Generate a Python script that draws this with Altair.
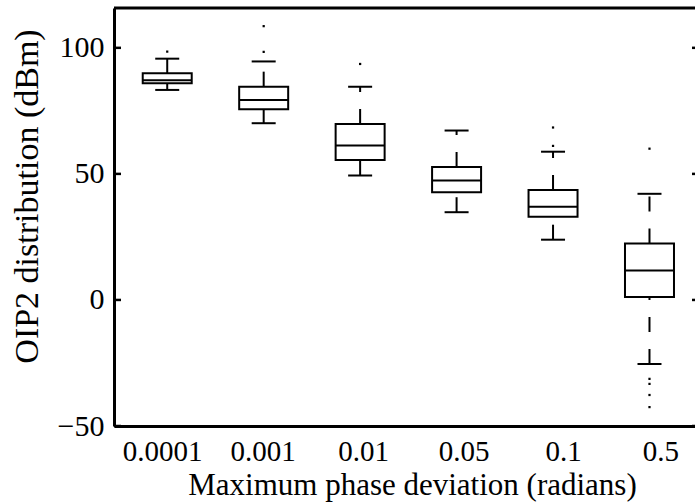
import json
import altair as alt
import pandas as pd

# ---- data ----
categories = ["0.0001", "0.001", "0.01", "0.05", "0.1", "0.5"]
lower_whisker = [83.3, 70.1, 49.4, 34.8, 23.9, -25.4]
q1 = [86.0, 75.6, 55.5, 42.7, 33.0, 1.2]
median = [87.1, 79.3, 61.3, 47.4, 37.0, 11.7]
q3 = [89.9, 84.6, 69.8, 52.7, 43.6, 22.4]
upper_whisker = [95.7, 94.6, 84.6, 67.2, 58.8, 42.1]
outlier_category = ["0.0001", "0.001", "0.001", "0.01", "0.1", "0.1",
                    "0.5", "0.5", "0.5", "0.5", "0.5"]
outlier_value = [98.5, 98.4, 108.6, 93.6, 61.1, 68.4,
                 60.0, -31.3, -33.3, -37.7, -42.5]
y_ticks = [-50, 0, 50, 100]

# ---- tables ----
idx = list(range(1, len(categories) + 1))
box_df = pd.DataFrame({"idx": idx, "cat": categories, "lo": lower_whisker,
                       "q1": q1, "med": median, "q3": q3, "hi": upper_whisker})
out_df = pd.DataFrame({"idx": [categories.index(c) + 1 for c in outlier_category],
                       "val": outlier_value})
tick_df = pd.DataFrame({"v": y_ticks})
frame_df = pd.DataFrame({"k": [0]})

W, H = 581, 418
FONT = "Liberation Serif"

x_scale = alt.Scale(domain=[0.5, 6.42], nice=False, zero=False)
y_scale = alt.Scale(domain=[-50, 115.8], nice=False, zero=False)

label_expr = json.dumps(categories) + "[datum.value - 1]"
label_shift = [-5, -1, 3, 7, 10, 11]
label_offset = {"condition": [{"test": f"datum.value == {i}", "value": s}
                              for i, s in zip(idx[:-1], label_shift[:-1])],
                "value": label_shift[-1]}

x_axis = alt.Axis(values=idx, labelExpr=label_expr, ticks=False, tickSize=0,
                  grid=False, domainColor="black", domainWidth=3,
                  labelFont=FONT, labelFontSize=29, labelColor="black",
                  labelBaseline="alphabetic", labelPadding=34,
                  labelOffset=label_offset,
                  title="Maximum phase deviation (radians)",
                  titleFont=FONT, titleFontSize=31, titleFontWeight="normal",
                  titleColor="black", titleBaseline="alphabetic",
                  titleX=298, titleY=68, titleAlign="center")
y_axis = alt.Axis(values=y_ticks, ticks=False, tickSize=0, grid=False,
                  domainColor="black", domainWidth=3,
                  labelFont=FONT, labelFontSize=30, labelColor="black",
                  labelPadding=10, labelBaseline="middle",
                  title="OIP2 distribution (dBm)",
                  titleFont=FONT, titleFontSize=34, titleFontWeight="normal",
                  titleColor="black", titleBaseline="alphabetic",
                  titleX=-77, titleY=188, titleAlign="center", titleAngle=270)


def X():
    return alt.X("idx:Q", scale=x_scale, axis=x_axis)


def Y(field):
    return alt.Y(field, scale=y_scale, axis=y_axis)


base = alt.Chart(box_df)
dash = [15, 17]
upper = base.mark_rule(color="black", strokeWidth=2, strokeDash=dash).encode(
    x=X(), y=Y("q3:Q"), y2="hi:Q")
lower = base.mark_rule(color="black", strokeWidth=2, strokeDash=dash).encode(
    x=X(), y=Y("lo:Q"), y2="q1:Q")
box = base.mark_bar(size=49, fill="white", stroke="black", strokeWidth=2).encode(
    x=X(), y=Y("q1:Q"), y2="q3:Q")
med = base.mark_tick(orient="horizontal", size=49, thickness=2, color="black",
                     opacity=1).encode(x=X(), y=Y("med:Q"))
cap_hi = base.mark_tick(orient="horizontal", size=24, thickness=2, color="black",
                        opacity=1).encode(x=X(), y=Y("hi:Q"))
cap_lo = base.mark_tick(orient="horizontal", size=24, thickness=2, color="black",
                        opacity=1).encode(x=X(), y=Y("lo:Q"))
outl = alt.Chart(out_df).mark_square(size=5, color="black", opacity=1).encode(
    x=X(), y=Y("val:Q"))

left_ticks = alt.Chart(tick_df).mark_rule(color="black", strokeWidth=2.5).encode(
    y=Y("v:Q"), x=alt.value(0), x2=alt.value(7))
right_ticks = alt.Chart(tick_df).mark_rule(color="black", strokeWidth=2.5).encode(
    y=Y("v:Q"), x=alt.value(W - 3), x2=alt.value(W))
top_frame = alt.Chart(frame_df).mark_rule(color="black", strokeWidth=3).encode(
    x=alt.value(0), x2=alt.value(W), y=alt.value(0))

chart = alt.layer(upper, lower, box, med, cap_hi, cap_lo, outl,
                  left_ticks, right_ticks, top_frame).properties(
    width=W, height=H,
    autosize=alt.AutoSizeParams(type="none"),
    padding={"left": 114, "top": 8, "right": 0, "bottom": 78},
    background="white",
).configure_view(stroke=None)

chart.save("out.html", embed_options={"renderer": "svg", "actions": False})
